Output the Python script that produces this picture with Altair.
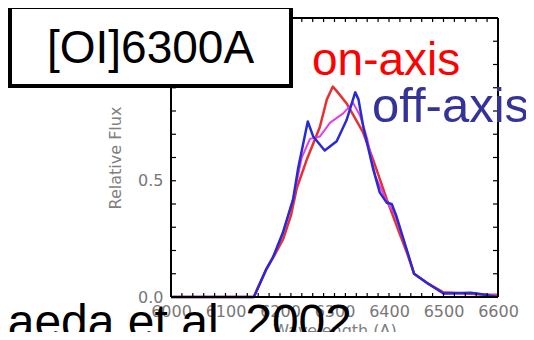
import altair as alt
import pandas as pd

# ---- data ----
on_w = [6000, 6152, 6175, 6190, 6206, 6220, 6231, 6249, 6273, 6286, 6297, 6306, 6323, 6352, 6371, 6396, 6420, 6433, 6446, 6470, 6500, 6540, 6580, 6600]
on_v = [0, 0, 0.12, 0.18, 0.25, 0.35, 0.47, 0.59, 0.73, 0.85, 0.905, 0.88, 0.83, 0.71, 0.59, 0.42, 0.27, 0.19, 0.10, 0.06, 0.02, 0.015, 0.01, 0.01]

mid_w = [6000, 6152, 6175, 6187, 6205, 6224, 6240, 6255, 6273, 6292, 6316, 6334, 6347, 6360, 6375, 6396, 6410, 6433, 6446, 6470, 6500, 6560, 6600]
mid_v = [0, 0, 0.12, 0.17, 0.27, 0.42, 0.60, 0.68, 0.69, 0.75, 0.79, 0.835, 0.78, 0.68, 0.52, 0.41, 0.36, 0.20, 0.10, 0.06, 0.015, 0.015, 0.005]

off_w = [6000, 6152, 6175, 6187, 6205, 6224, 6233, 6240, 6251, 6261, 6282, 6304, 6322, 6338, 6344, 6353, 6371, 6383, 6396, 6405, 6414, 6433, 6446, 6470, 6500, 6550, 6570, 6600]
off_v = [0, 0, 0.12, 0.17, 0.275, 0.42, 0.55, 0.63, 0.755, 0.69, 0.63, 0.67, 0.76, 0.88, 0.85, 0.73, 0.55, 0.45, 0.405, 0.40, 0.345, 0.20, 0.10, 0.06, 0.015, 0.018, 0.012, 0.0]

x_ticks = [6000, 6100, 6200, 6300, 6400, 6500, 6600]
x_minor = list(range(6000, 6601, 20))
y_ticks = [0.0, 0.5, 1.0]
y_minor = [round(i * 0.1, 1) for i in range(0, 13)]

title_text = ["[OI]6300A"]
on_label = ["on-axis"]
off_label = ["off-axis"]
cite_text = ["Maeda et al. 2002"]

W, H = 327, 279
X0, Y0 = 171, 18  # page position of plot origin

def px(x):
    return x - X0

def py(y):
    return y - Y0

x_scale = alt.Scale(domain=[6000, 6600], nice=False, zero=False)
y_scale = alt.Scale(domain=[0, 1.2], nice=False, zero=True)
x_axis = alt.Axis(values=x_ticks, title="Wavelength (A)", labelPadding=6,
                  titlePadding=3, format="d", labelFlush=False, labelOverlap=False)
y_axis = alt.Axis(values=y_ticks, title="Relative Flux", format=".1f",
                  labelPadding=8, titlePadding=14, labelFlush=False, labelOverlap=False)

lines_df = pd.concat([
    pd.DataFrame({"w": on_w, "v": on_v, "s": "on", "o": range(len(on_w))}),
    pd.DataFrame({"w": mid_w, "v": mid_v, "s": "mid", "o": range(len(mid_w))}),
    pd.DataFrame({"w": off_w, "v": off_v, "s": "off", "o": range(len(off_w))}),
])

def series_line(name, color, width):
    d = lines_df[lines_df.s == name]
    return alt.Chart(d).mark_line(color=color, strokeWidth=width, strokeJoin="round").encode(
        x=alt.X("w:Q", scale=x_scale, axis=x_axis),
        y=alt.Y("v:Q", scale=y_scale, axis=y_axis),
        order="o:Q",
    )

red = series_line("on", "#e43232", 2.5)
mag = series_line("mid", "#e040e6", 2.0)
blue = series_line("off", "#2a2ad2", 2.5)

xt = pd.DataFrame({"w": x_minor})
yt = pd.DataFrame({"v": y_minor})
tick_len = 4
xb = alt.Chart(xt).mark_rule(color="black", strokeWidth=1.2).encode(
    x=alt.X("w:Q", scale=x_scale, axis=x_axis), y=alt.value(H), y2=alt.value(H - tick_len))
xtp = alt.Chart(xt).mark_rule(color="black", strokeWidth=1.2).encode(
    x=alt.X("w:Q", scale=x_scale, axis=x_axis), y=alt.value(0), y2=alt.value(tick_len))
yl = alt.Chart(yt).mark_rule(color="black", strokeWidth=1.2).encode(
    y=alt.Y("v:Q", scale=y_scale, axis=y_axis), x=alt.value(0), x2=alt.value(tick_len + 1))
yr = alt.Chart(yt).mark_rule(color="black", strokeWidth=1.2).encode(
    y=alt.Y("v:Q", scale=y_scale, axis=y_axis), x=alt.value(W), x2=alt.value(W - tick_len - 1))

one = pd.DataFrame({"k": [0]})
frame_top = alt.Chart(one).mark_rule(color="black", strokeWidth=2).encode(
    x=alt.value(0), x2=alt.value(W), y=alt.value(0))
frame_bot = alt.Chart(one).mark_rule(color="black", strokeWidth=2).encode(
    x=alt.value(0), x2=alt.value(W), y=alt.value(H))
frame_left = alt.Chart(one).mark_rule(color="black", strokeWidth=2).encode(
    x=alt.value(0), y=alt.value(0), y2=alt.value(H))
frame_right = alt.Chart(one).mark_rule(color="black", strokeWidth=2).encode(
    x=alt.value(W), y=alt.value(0), y2=alt.value(H))

box = alt.Chart(one).mark_rect(fill="white", stroke="black", strokeWidth=4).encode(
    x=alt.value(px(10)), x2=alt.value(px(291)), y=alt.value(py(7)), y2=alt.value(py(86)))

def label(values, x, y, size, color, align="left", font="Liberation Sans"):
    d = pd.DataFrame({"t": values})
    return alt.Chart(d).mark_text(align=align, baseline="alphabetic", fontSize=size,
                                  color=color, font=font).encode(
        text="t:N", x=alt.value(px(x)), y=alt.value(py(y)))

t_title = label(title_text, 47, 63, 46, "black")
t_on = label(on_label, 312, 75, 46, "#ff0000")
t_off = label(off_label, 372, 122, 49, "#333399")
t_cite = label(cite_text, 352, 338, 48, "black", align="right")

chart = alt.layer(
    red, mag, blue, xb, xtp, yl, yr, frame_top, frame_bot, frame_left, frame_right,
    box, t_title, t_on, t_off, t_cite,
).properties(
    width=W, height=H,
    padding={"left": 163, "top": 10, "right": 28, "bottom": 35},
    autosize=alt.AutoSizeParams(type="none"),
).configure_view(stroke=None).configure_axis(
    domain=False, ticks=False, grid=False,
    labelFont="DejaVu Sans", labelFontSize=16, labelColor="#777777",
    titleFont="DejaVu Sans", titleFontSize=16, titleColor="#808080", titleFontWeight="normal",
)

chart.save("out.html", embed_options={"renderer": "svg", "actions": False})
